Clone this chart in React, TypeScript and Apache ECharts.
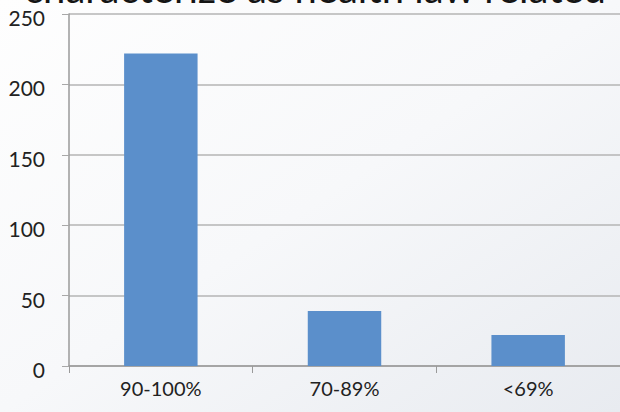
import React, { useEffect, useRef } from "react";
import * as echarts from "echarts";

const categories = ["90-100%", "70-89%", "<69%"];
const counts = [222, 39, 22];
const yTicks = [0, 50, 100, 150, 200, 250];
const titleText = "characterize as health law related";

export default function App() {
  const ref = useRef<HTMLDivElement>(null);
  useEffect(() => {
    const chart = echarts.init(ref.current!, null, { renderer: "svg" });
    chart.setOption({
      animation: false,
      backgroundColor: new echarts.graphic.LinearGradient(0, 0, 1, 1, [
        { offset: 0, color: "#fefefe" },
        { offset: 0.5, color: "#f7f8fa" },
        { offset: 1, color: "#e8ebf0" },
      ]),
      graphic: [
        {
          type: "text",
          left: 24,
          top: -32,
          style: {
            text: titleText,
            font: "40px Lato, 'Open Sans', sans-serif",
            fill: "#151515",
          },
        },
      ],
      grid: { left: 69, top: 14, width: 558, height: 352 },
      xAxis: {
        type: "category",
        data: categories,
        axisLine: { lineStyle: { color: "#9a9a9a", width: 1.5 } },
        axisTick: { show: true, length: 7, lineStyle: { color: "#9a9a9a" } },
        axisLabel: {
          margin: 12,
          fontSize: 20,
          color: "#222",
          fontFamily: "Lato, 'Open Sans', sans-serif",
        },
      },
      yAxis: {
        type: "value",
        min: yTicks[0],
        max: yTicks[yTicks.length - 1],
        interval: 50,
        axisLine: { show: true, lineStyle: { color: "#9a9a9a", width: 1.5 } },
        axisTick: { show: true, length: 7, lineStyle: { color: "#a8a8a8" } },
        splitLine: { lineStyle: { color: "#b4b4b4", width: 1.5 } },
        axisLabel: {
          margin: 24,
          fontSize: 21,
          verticalAlign: "top",
          lineHeight: 7,
          color: "#222",
          fontFamily: "Lato, 'Open Sans', sans-serif",
        },
      },
      series: [
        {
          type: "bar",
          data: counts,
          barWidth: "40%",
          itemStyle: { color: "#5b8fcb" },
        },
      ],
    });
    return () => chart.dispose();
  }, []);
  return <div ref={ref} style={{ width: 620, height: 412, position: "fixed", left: 0, top: 0 }} />;
}
